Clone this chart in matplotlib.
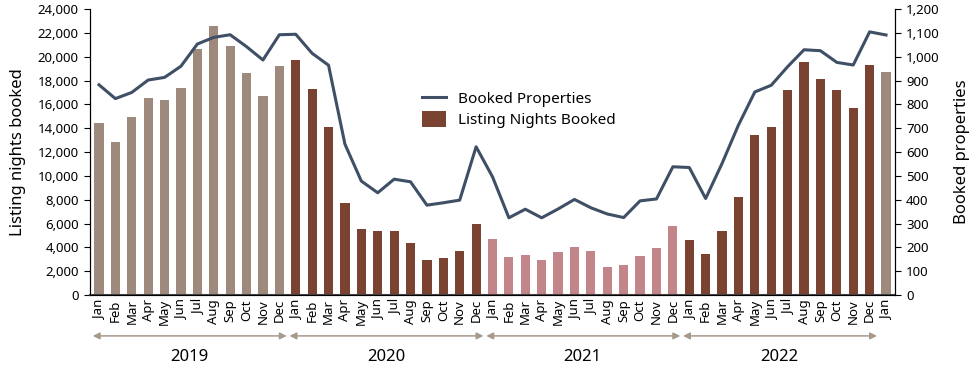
import matplotlib.pyplot as plt
from matplotlib.lines import Line2D
from matplotlib.patches import Patch

plt.rcParams['font.family'] = ['Noto Sans', 'DejaVu Sans']

# meses de jan/2019 a jan/2023
meses = ['Jan', 'Feb', 'Mar', 'Apr', 'May', 'Jun', 'Jul', 'Aug', 'Sep', 'Oct', 'Nov', 'Dec'] * 4 + ['Jan']
anos = [2019] * 12 + [2020] * 12 + [2021] * 12 + [2022] * 12 + [2023]
rotulos_anos = ['2019', '2020', '2021', '2022']

# noites reservadas (eixo esquerdo)
noites_2019 = [14400, 12800, 14900, 16550, 16330, 17340, 20670, 22580, 20870, 18660, 16720, 19190]
noites_2020 = [19750, 17250, 14090, 7700, 5550, 5410, 5410, 4340, 2910, 3110, 3670, 5990]
noites_2021 = [4730, 3170, 3360, 2970, 3610, 4060, 3670, 2380, 2520, 3310, 3950, 5800]
noites_2022 = [4650, 3450, 5410, 8250, 13390, 14090, 17200, 19580, 18120, 17200, 15710, 19330]
noites_2023 = [18710]
noites = noites_2019 + noites_2020 + noites_2021 + noites_2022 + noites_2023

# propriedades reservadas (eixo direito)
propriedades = [882, 824, 850, 902, 913, 960, 1053, 1081, 1092, 1042, 986, 1092,
                1094, 1014, 964, 633, 478, 429, 486, 475, 377, 387, 398, 622,
                496, 324, 360, 324, 361, 401, 366, 340, 325, 395, 403, 538,
                535, 405, 552, 713, 852, 880, 958, 1029, 1025, 976, 965, 1104,
                1091]

cores_ano = {2019: '#9e8a7d', 2020: '#7a4331', 2021: '#c1858a', 2022: '#7a4331', 2023: '#9e8a7d'}
cor_linha = '#3e4f66'
cor_seta = '#a8998d'

x = list(range(len(meses)))
cores = [cores_ano[a] for a in anos]

fig = plt.figure(figsize=(9.8, 3.75), dpi=100)
ax = fig.add_axes([0.0918, 0.2133, 0.8215, 0.7627])
ax2 = ax.twinx()

ax.bar(x, noites, width=0.56, color=cores)
ax2.plot(x, propriedades, color=cor_linha, linewidth=2.2)

ax.set_xlim(-0.55, len(x) - 0.45)
ax.set_ylim(0, 24000)
ax2.set_ylim(0, 1200)
ax.set_yticks(range(0, 24001, 2000))
ax.set_yticklabels(['{:,}'.format(v) for v in range(0, 24001, 2000)], fontsize=9.5)
ax2.set_yticks(range(0, 1201, 100))
ax2.set_yticklabels(['{:,}'.format(v) for v in range(0, 1201, 100)], fontsize=9.5)
ax.set_xticks(x)
ax.set_xticklabels(meses, rotation=90, fontsize=9.5)
ax.tick_params(axis='x', length=0, pad=3)
ax.tick_params(axis='y', length=4, pad=4)
ax2.tick_params(axis='y', length=4, pad=4)

for a in (ax, ax2):
    a.spines['top'].set_visible(False)
ax.spines['bottom'].set_color('#444444')
ax.spines['bottom'].set_linewidth(1.5)

ax.set_ylabel('Listing nights booked', fontsize=12, labelpad=8)
ax2.set_ylabel('Booked properties', fontsize=12, labelpad=10)

# setas e rótulos dos anos
for i, rotulo in enumerate(rotulos_anos):
    inicio = 12 * i - 0.38
    fim = 12 * i + 11.45
    ax.annotate('', xy=(fim, -0.143), xytext=(inicio, -0.143),
                xycoords=('data', 'axes fraction'), textcoords=('data', 'axes fraction'),
                arrowprops=dict(arrowstyle='<|-|>', color=cor_seta, lw=1.1,
                                mutation_scale=10, shrinkA=0, shrinkB=0),
                annotation_clip=False)
    ax.text(12 * i + 5.5, -0.218, rotulo, transform=ax.get_xaxis_transform(),
            ha='center', va='center', fontsize=12)

handles = [Line2D([0], [0], color=cor_linha, linewidth=2.2),
           Patch(facecolor='#7a4331')]
ax2.legend(handles, ['Booked Properties', 'Listing Nights Booked'],
           loc='center left', bbox_to_anchor=(0.395, 0.65), frameon=False,
           fontsize=11, handlelength=1.6, handleheight=1.2, labelspacing=0.25)

fig.savefig('out.png', dpi=100)
